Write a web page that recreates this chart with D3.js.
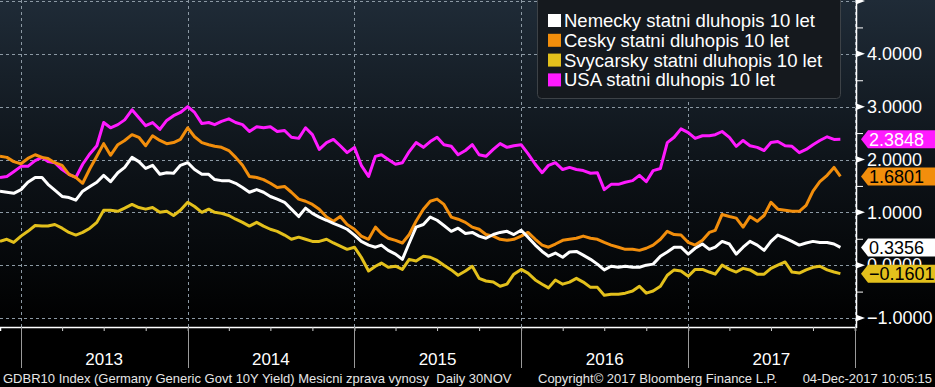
<!DOCTYPE html>
<html>
<head>
<meta charset="utf-8">
<script src="https://cdn.jsdelivr.net/npm/d3@7"></script>
<style>
  html, body { margin: 0; padding: 0; background: #000; }
  svg { display: block; font-family: "Liberation Sans", Arial, sans-serif; }
</style>
</head>
<body>
<svg id="drawing_region"></svg>
<script>
// observation dates (1st and 16th of each month)
const dates = [
  "2012-11-16","2012-12-01","2012-12-16",
  "2013-01-01","2013-01-16","2013-02-01","2013-02-16","2013-03-01","2013-03-16","2013-04-01","2013-04-16","2013-05-01","2013-05-16","2013-06-01","2013-06-16",
  "2013-07-01","2013-07-16","2013-08-01","2013-08-16","2013-09-01","2013-09-16","2013-10-01","2013-10-16","2013-11-01","2013-11-16","2013-12-01","2013-12-16",
  "2014-01-01","2014-01-16","2014-02-01","2014-02-16","2014-03-01","2014-03-16","2014-04-01","2014-04-16","2014-05-01","2014-05-16","2014-06-01","2014-06-16",
  "2014-07-01","2014-07-16","2014-08-01","2014-08-16","2014-09-01","2014-09-16","2014-10-01","2014-10-16","2014-11-01","2014-11-16","2014-12-01","2014-12-16",
  "2015-01-01","2015-01-16","2015-02-01","2015-02-16","2015-03-01","2015-03-16","2015-04-01","2015-04-16","2015-05-01","2015-05-16","2015-06-01","2015-06-16",
  "2015-07-01","2015-07-16","2015-08-01","2015-08-16","2015-09-01","2015-09-16","2015-10-01","2015-10-16","2015-11-01","2015-11-16","2015-12-01","2015-12-16",
  "2016-01-01","2016-01-16","2016-02-01","2016-02-16","2016-03-01","2016-03-16","2016-04-01","2016-04-16","2016-05-01","2016-05-16","2016-06-01","2016-06-16",
  "2016-07-01","2016-07-16","2016-08-01","2016-08-16","2016-09-01","2016-09-16","2016-10-01","2016-10-16","2016-11-01","2016-11-16","2016-12-01","2016-12-16",
  "2017-01-01","2017-01-16","2017-02-01","2017-02-16","2017-03-01","2017-03-16","2017-04-01","2017-04-16","2017-05-01","2017-05-16","2017-06-01","2017-06-16",
  "2017-07-01","2017-07-16","2017-08-01","2017-08-16","2017-09-01","2017-09-16","2017-10-01","2017-10-16","2017-11-01","2017-11-16","2017-11-30"
];

const germany = [
  1.40,1.38,1.36,
  1.43,1.57,1.66,1.66,1.53,1.42,1.30,1.28,1.23,1.40,1.49,1.57,1.70,1.58,1.75,1.85,2.04,1.96,1.83,1.89,1.72,1.75,1.74,1.89,
  1.94,1.81,1.72,1.72,1.62,1.60,1.60,1.55,1.47,1.38,1.43,1.38,1.30,1.25,1.19,1.06,0.92,1.08,0.98,0.91,0.85,0.79,0.74,0.68,
  0.57,0.45,0.38,0.34,0.38,0.28,0.21,0.11,0.42,0.72,0.77,0.91,0.85,0.75,0.64,0.70,0.60,0.62,0.55,0.51,0.58,0.62,0.64,0.58,
  0.66,0.53,0.38,0.26,0.17,0.23,0.15,0.25,0.26,0.19,0.11,0.02,-0.09,-0.02,-0.04,-0.02,-0.04,-0.04,0.00,0.02,0.17,0.25,0.34,0.34,
  0.21,0.32,0.40,0.30,0.34,0.45,0.40,0.21,0.34,0.45,0.38,0.28,0.45,0.57,0.51,0.45,0.38,0.42,0.45,0.43,0.43,0.40,0.3356
];
const czech = [
  2.06,2.04,1.96,
  1.92,2.02,2.09,2.04,2.02,1.94,1.89,1.72,1.66,1.55,1.83,2.06,2.30,2.08,2.28,2.36,2.47,2.42,2.26,2.45,2.36,2.30,2.32,2.38,
  2.60,2.43,2.32,2.28,2.25,2.23,2.17,2.04,1.89,1.68,1.66,1.62,1.55,1.47,1.49,1.38,1.25,1.21,1.15,1.06,0.91,0.83,0.92,0.77,
  0.68,0.55,0.49,0.72,0.60,0.51,0.47,0.42,0.58,0.83,1.06,1.21,1.25,1.15,0.91,0.87,0.81,0.72,0.68,0.58,0.55,0.49,0.47,0.49,
  0.55,0.62,0.49,0.38,0.34,0.40,0.47,0.49,0.51,0.55,0.51,0.49,0.43,0.38,0.34,0.30,0.30,0.28,0.32,0.38,0.49,0.64,0.58,0.57,
  0.43,0.38,0.47,0.62,0.66,0.96,0.92,0.89,0.72,0.92,0.83,0.94,1.19,1.06,1.04,1.02,1.02,1.13,1.40,1.58,1.70,1.85,1.6801
];
const swiss = [
  0.45,0.49,0.43,
  0.55,0.64,0.75,0.74,0.74,0.77,0.70,0.62,0.57,0.62,0.70,0.81,1.04,1.04,1.02,1.08,1.15,1.09,1.06,1.09,1.00,1.02,0.94,1.04,
  1.19,1.11,1.00,1.06,1.00,0.98,0.94,0.87,0.81,0.74,0.81,0.74,0.68,0.64,0.57,0.49,0.53,0.49,0.45,0.45,0.49,0.42,0.36,0.30,
  0.34,0.15,-0.11,-0.02,0.04,-0.04,-0.02,-0.08,0.11,0.08,0.17,0.15,0.09,0.00,-0.09,-0.19,-0.11,-0.02,-0.25,-0.30,-0.32,-0.40,-0.36,-0.17,
  -0.08,-0.15,-0.28,-0.36,-0.43,-0.28,-0.36,-0.32,-0.25,-0.32,-0.42,-0.42,-0.57,-0.55,-0.55,-0.53,-0.49,-0.40,-0.53,-0.49,-0.40,-0.19,-0.09,-0.11,
  -0.21,-0.08,-0.08,-0.13,-0.17,0.00,-0.08,-0.13,-0.06,-0.09,-0.17,-0.17,-0.06,0.00,0.06,-0.13,-0.15,-0.09,-0.04,-0.02,-0.09,-0.13,-0.1601
];
const usa = [
  1.66,1.68,1.77,
  1.87,1.87,1.98,2.04,1.96,1.94,1.81,1.72,1.66,1.91,2.11,2.26,2.70,2.60,2.66,2.75,2.94,2.79,2.64,2.70,2.57,2.74,2.83,2.89,
  3.00,2.89,2.68,2.70,2.66,2.72,2.77,2.70,2.66,2.53,2.62,2.60,2.62,2.53,2.55,2.42,2.40,2.60,2.47,2.19,2.32,2.38,2.26,2.13,
  2.23,1.89,1.68,2.06,2.09,2.00,1.91,1.94,2.15,2.32,2.23,2.34,2.42,2.28,2.25,2.09,2.17,2.28,2.09,2.06,2.19,2.30,2.23,2.26,
  2.28,2.11,1.91,1.75,1.89,1.94,1.81,1.85,1.81,1.79,1.74,1.75,1.43,1.53,1.53,1.57,1.60,1.70,1.58,1.79,1.83,2.32,2.42,2.58,
  2.51,2.40,2.45,2.45,2.47,2.53,2.42,2.25,2.36,2.26,2.23,2.17,2.32,2.34,2.26,2.25,2.13,2.19,2.28,2.36,2.43,2.38,2.3848
];

const seriesNames = ["Nemecky statni dluhopis 10 let", "Cesky statni dluhopis 10 let", "Svycarsky statni dluhopis 10 let", "USA statni dluhopis 10 let"];
const seriesColors = ["#ffffff", "#f28e0c", "#e3c01c", "#ff1aff"];
const tagText = ["#000000", "#000000", "#000000", "#ffffff"];
const seriesValues = [germany, czech, swiss, usa];

const yTicks = [-1, 0, 1, 2, 3, 4, 5];
const yLabels = [-1, 0, 1, 2, 3, 4];
const yMinor = [-0.5, 0.5, 1.5, 2.5, 3.5, 4.5];
const years = ["2013", "2014", "2015", "2016", "2017", "2018"];
const footer = ["GDBR10 Index (Germany Generic Govt 10Y Yield) Mesicni zprava vynosy\u00a0 Daily 30NOV", "Copyright\u00a9 2017 Bloomberg Finance L.P.", "04-Dec-2017 10:05:15"];

const W = 935, H = 387;
const plotRight = 855, plotBottom = 327;

const parse = d3.utcParse("%Y-%m-%d");
const svg = d3.select("#drawing_region").attr("width", W).attr("height", H);

const x = d3.scaleUtc()
  .domain([parse("2012-11-16"), parse("2018-01-01")])
  .range([0, plotRight]);
const y = d3.scaleLinear().domain([-1, 5]).range([318, 1]);

// background
const defs = svg.append("defs");
const grad = defs.append("linearGradient").attr("id", "bg").attr("x1", 0).attr("y1", 0).attr("x2", 0).attr("y2", 1);
grad.append("stop").attr("offset", "0%").attr("stop-color", "#1f2b37");
grad.append("stop").attr("offset", "55%").attr("stop-color", "#0c1116");
grad.append("stop").attr("offset", "100%").attr("stop-color", "#000000");
svg.append("rect").attr("width", W).attr("height", H).attr("fill", "#000");
svg.append("rect").attr("width", W).attr("height", plotBottom).attr("fill", "url(#bg)");

// grid
const grid = svg.append("g").attr("stroke", "#8c99a4").attr("stroke-dasharray", "3,3").attr("stroke-width", 1);
grid.selectAll(".hg").data(yTicks).join("line")
  .attr("x1", 0).attr("x2", plotRight)
  .attr("y1", d => Math.round(y(d)) + 0.5).attr("y2", d => Math.round(y(d)) + 0.5);
grid.selectAll(".vg").data(years).join("line")
  .attr("x1", d => Math.round(x(parse(d + "-01-01"))) + 0.5)
  .attr("x2", d => Math.round(x(parse(d + "-01-01"))) + 0.5)
  .attr("y1", 0).attr("y2", plotBottom);

// lines (USA at the back, Germany on top)
const line = d3.line()
  .x((d, i) => x(parse(dates[i])))
  .y(d => y(d));
[3, 2, 1, 0].forEach(s => {
  svg.append("path")
    .datum(seriesValues[s])
    .attr("fill", "none")
    .attr("stroke", seriesColors[s])
    .attr("stroke-width", 3)
    .attr("stroke-linejoin", "round")
    .attr("d", line);
});

// x axis
const xAxis = svg.append("g").attr("transform", `translate(0,${plotBottom})`)
  .call(d3.axisBottom(x).ticks(d3.utcMonth.every(3)).tickSize(4).tickFormat(""));
xAxis.select(".domain").attr("stroke", "#ffffff").attr("stroke-width", 1.5);
xAxis.selectAll(".tick line").attr("stroke", "#cfcfcf");
svg.append("g").selectAll("line").data(years).join("line")
  .attr("x1", d => Math.round(x(parse(d + "-01-01"))) + 0.5)
  .attr("x2", d => Math.round(x(parse(d + "-01-01"))) + 0.5)
  .attr("y1", plotBottom).attr("y2", 368)
  .attr("stroke", "#9a9a9a").attr("stroke-width", 1);
svg.append("g").selectAll("text").data(years.slice(0, 5)).join("text")
  .attr("x", d => x(parse(d + "-07-02")))
  .attr("y", 365)
  .attr("text-anchor", "middle")
  .attr("fill", "#ffffff")
  .style("font-size", "17px")
  .text(d => d);

// right axis
svg.append("line").attr("x1", plotRight + 1.5).attr("x2", plotRight + 1.5).attr("y1", 0).attr("y2", plotBottom + 1)
  .attr("stroke", "#ffffff").attr("stroke-width", 1.5);
const yAxis = svg.append("g").attr("transform", `translate(${plotRight + 2},0)`)
  .call(d3.axisRight(y).tickValues(yLabels).tickSize(0).tickPadding(10).tickFormat(d3.format(".4f")));
yAxis.select(".domain").remove();
yAxis.selectAll(".tick text").attr("fill", "#ffffff").style("font-size", "18px").attr("font-family", null);
svg.append("g").selectAll("path").data(yTicks).join("path")
  .attr("transform", d => `translate(${plotRight + 2},${y(d)})`)
  .attr("d", "M0,-3L8,0L0,3Z").attr("fill", "#ffffff");
const yAxisMinor = svg.append("g").attr("transform", `translate(${plotRight + 2},0)`)
  .call(d3.axisRight(y).tickValues(yMinor).tickSize(6).tickFormat(""));
yAxisMinor.select(".domain").remove();
yAxisMinor.selectAll(".tick line").attr("stroke", "#ffffff");

// last value tags
const tags = svg.append("g");
seriesValues.forEach((vals, s) => {
  const last = vals[vals.length - 1];
  const cy = y(last);
  tags.append("path")
    .attr("d", `M${plotRight + 6},${cy}L${plotRight + 13},${cy - 9}L${W},${cy - 9}L${W},${cy + 9}L${plotRight + 13},${cy + 9}Z`)
    .attr("fill", seriesColors[s]);
  tags.append("text")
    .attr("x", plotRight + 14).attr("y", cy)
    .attr("dy", "0.36em")
    .attr("fill", tagText[s])
    .style("font-size", "18px")
    .text(d3.format(".4f")(last));
});

// legend
const legend = svg.append("g");
legend.append("rect")
  .attr("x", 537.5).attr("y", -4.5).attr("width", 303).attr("height", 103).attr("rx", 4)
  .attr("fill", "#15191e").attr("stroke", "#3d4247");
seriesNames.forEach((name, i) => {
  legend.append("rect").attr("x", 548).attr("y", 14 + i * 19.8).attr("width", 13).attr("height", 13).attr("fill", seriesColors[i]);
  legend.append("text").attr("x", 564).attr("y", 27 + i * 19.8)
    .attr("fill", "#ffffff").style("font-size", "18.5px").text(name);
});

// footer
const foot = svg.append("g").attr("fill", "#e6e6e6").style("font-size", "13px");
foot.append("text").attr("x", 3).attr("y", 383).text(footer[0]);
foot.append("text").attr("x", 538).attr("y", 383).text(footer[1]);
foot.append("text").attr("x", 932).attr("y", 383).attr("text-anchor", "end").text(footer[2]);
</script>
</body>
</html>
